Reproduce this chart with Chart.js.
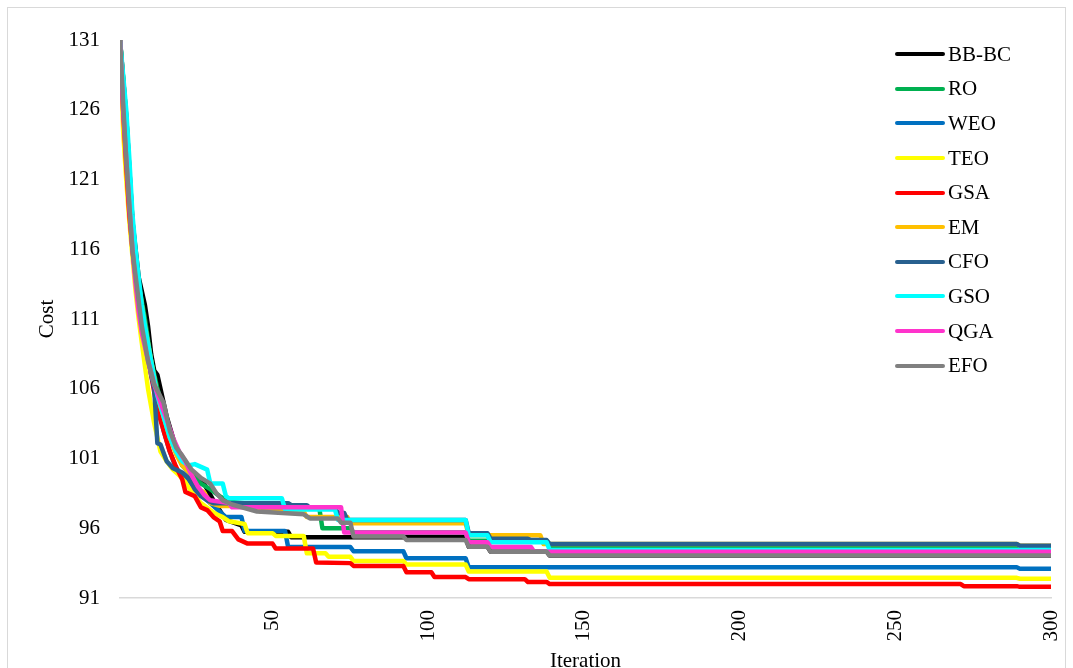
<!DOCTYPE html>
<html>
<head>
<meta charset="utf-8">
<script src="https://cdn.jsdelivr.net/npm/chart.js@4.4.1/dist/chart.umd.min.js"></script>
<style>
  html, body { margin: 0; padding: 0; background: #fff; overflow: hidden; }
  #wrap { position: relative; width: 1073px; height: 668px; overflow: hidden; }
  #frame { position: absolute; left: 7px; top: 7px; width: 1059px; height: 700px; border: 1px solid #d9d9d9; box-sizing: border-box; }
  #chart { position: absolute; left: 0; top: 0; }
  #legend { position: absolute; left: 895px; top: 37px; font-family: 'Liberation Serif', 'Times New Roman', serif; font-size: 21px; color: #000; }
  #legend .item { height: 34.6px; display: flex; align-items: center; }
  #legend .swatch { width: 50px; height: 4px; border-radius: 2px; margin-right: 3px; }
</style>
</head>
<body>
<div id="wrap">
  <div id="frame"></div>
  <canvas id="chart" width="1073" height="700"></canvas>
  <div id="legend"></div>
</div>
<script>
// series names + colours (legend order)
const names = ['BB-BC', 'RO', 'WEO', 'TEO', 'GSA', 'EM', 'CFO', 'GSO', 'QGA', 'EFO'];
const colors = ['#000000', '#00b050', '#0070c0', '#ffff00', '#ff0000', '#ffc000', '#28608f', '#00ffff', '#ff33cc', '#808080'];

const xTicks = [50, 100, 150, 200, 250, 300];
const yTicks = [91, 96, 101, 106, 111, 116, 121, 126, 131];

// [iteration, cost] points (flat parts given by their two ends)
const bbbc = [[1,131],[3,125.5],[5,118],[7,114],[9,112],[10,110.5],[11,108.5],[12,107.3],[13,107],[14,106],[16,104],[18,102.5],[20,101],[22,100.3],[25,99.8],[28,99.2],[31,98],[33,97.3],[35,96.6],[40,96.2],[41,95.75],[55,95.75],[56,95.35],[112,95.35],[113,94.68],[119,94.68],[120,94.32],[138,94.32],[139,94.05],[300,94.05]];
const ro = [[1,131],[3,125],[5,117.5],[7,113.5],[9,111],[11,108],[13,106],[15,104.5],[17,103],[19,101.5],[21,100.5],[24,99.8],[27,99.2],[30,98.8],[33,98.3],[36,97.9],[45,97.7],[46,97.45],[65,97.45],[66,96],[75,96],[76,95.7],[112,95.7],[113,95.1],[138,95.1],[139,94.62],[300,94.62]];
const weo = [[1,131],[3,125],[5,117],[7,113],[9,110.5],[11,107.5],[13,105],[15,103],[17,101.5],[19,100.3],[21,99.8],[24,99.2],[27,98.5],[30,97.8],[33,97.2],[35,96.8],[40,96.8],[41,95.8],[54,95.8],[55,94.65],[75,94.65],[76,94.35],[92,94.35],[93,93.85],[112,93.85],[113,93.2],[289,93.2],[290,93.1],[300,93.1]];
const teo = [[1,131],[2,124.5],[3,121],[4,118],[5,115.5],[6,113],[7,111],[8,109.3],[10,106],[12,103.5],[14,101.5],[16,100.8],[18,100.2],[20,99.8],[22,99.3],[24,98.6],[27,97.8],[30,97.3],[32,97],[34,96.8],[36,96.5],[41,96.3],[42,95.65],[50,95.65],[51,95.45],[60,95.45],[61,94.2],[67,94.2],[68,93.95],[75,93.95],[76,93.65],[92,93.65],[93,93.4],[112,93.4],[113,92.9],[138,92.9],[139,92.45],[289,92.45],[290,92.38],[300,92.38]];
const gsa = [[1,131],[2,126],[3,122],[4,118.5],[5,116],[7,112],[9,109.5],[11,107],[13,104.5],[15,103],[17,101.5],[19,100.4],[21,99.5],[22,98.6],[25,98.3],[27,97.5],[29,97.3],[31,96.8],[33,96.5],[34,95.8],[37,95.8],[39,95.2],[42,94.9],[50,94.9],[51,94.55],[63,94.55],[64,93.55],[75,93.5],[76,93.3],[92,93.3],[93,92.85],[101,92.85],[102,92.5],[112,92.5],[113,92.35],[131,92.35],[132,92.15],[138,92.15],[139,92],[271,92],[272,91.85],[289,91.85],[290,91.8],[300,91.8]];
const em = [[1,131],[3,125.5],[5,117.5],[7,113.5],[9,110.5],[11,108],[13,105.5],[15,104],[17,102.5],[19,101.3],[21,100.5],[24,99.8],[26,98.8],[28,98.6],[30,97.8],[33,97.6],[45,97.6],[46,97.2],[60,97.2],[61,96.8],[74,96.8],[75,96.35],[112,96.35],[113,95.5],[136,95.5],[137,94.87],[289,94.87],[290,94.75],[300,94.75]];
const cfo = [[1,131],[3,125.5],[5,118],[7,113.5],[9,110],[11,107],[12,106],[13,102.1],[14,102],[16,100.8],[18,100.3],[21,100],[23,99.6],[25,98.8],[27,98.3],[29,98],[31,97.8],[55,97.8],[56,97.65],[61,97.65],[62,97.45],[70,97.45],[71,97.1],[73,97.1],[74,96.6],[112,96.6],[113,95.65],[119,95.65],[120,95.25],[132,95.25],[133,95.15],[138,95.15],[139,94.87],[289,94.87],[290,94.75],[300,94.75]];
const gso = [[1,131],[2,128.5],[3,126],[4,122.5],[5,118.5],[6,116],[7,114],[8,112],[9,110.5],[11,108],[13,105.5],[15,104],[17,102.5],[19,101.5],[21,100.8],[23,100.5],[25,100.6],[27,100.4],[29,100.2],[30,99.2],[34,99.2],[35,98.3],[36,98.15],[53,98.15],[54,97.35],[70,97.35],[71,96.6],[112,96.6],[113,95.5],[119,95.5],[120,95],[138,95],[139,94.44],[300,94.44]];
const qga = [[1,131],[2,126],[3,122.5],[4,119],[5,116],[6,113.5],[7,111.5],[8,110],[10,108],[12,106.3],[14,105],[16,103.8],[18,102.5],[20,101.5],[22,100.8],[24,99.8],[26,99],[28,98.4],[30,98],[36,97.8],[37,97.5],[72,97.5],[73,95.7],[112,95.7],[113,95],[119,95],[120,94.65],[133,94.65],[134,94.32],[300,94.32]];
const efo = [[1,131],[2,126.5],[3,122.5],[5,115.9],[8,110.5],[10,108],[12,106.3],[15,105],[17,103],[19,101.8],[21,101.2],[24,100.2],[27,99.6],[30,99.2],[32,98.5],[34,98],[37,97.7],[45,97.2],[60,97],[62,96.7],[71,96.7],[72,96.4],[75,96.4],[76,95.4],[92,95.4],[93,95.15],[112,95.15],[113,94.68],[119,94.68],[120,94.32],[138,94.32],[139,94.05],[300,94.05]];

const series = [bbbc, ro, weo, teo, gsa, em, cfo, gso, qga, efo];

Chart.defaults.font.family = "'Liberation Serif', 'Times New Roman', serif";
Chart.defaults.font.size = 21;
Chart.defaults.color = '#000';

const datasets = series.map((pts, i) => ({
    label: names[i],
    data: pts.map(p => ({ x: p[0], y: p[1] })),
    borderColor: colors[i],
    backgroundColor: colors[i],
    borderWidth: 4.5,
    borderCapStyle: 'round',
    borderJoinStyle: 'round',
    pointRadius: 0,
    tension: 0,
    order: names.length - i   // later series drawn on top, like the original
}));

new Chart(document.getElementById('chart'), {
    type: 'line',
    data: { datasets },
    options: {
        responsive: false,
        animation: false,
        devicePixelRatio: 1,
        layout: { padding: { top: 40, right: 22, bottom: 0, left: 0 } },
        plugins: { legend: { display: false }, tooltip: { enabled: false } },
        scales: {
            x: {
                type: 'linear',
                min: 1,
                max: 300,
                grid: { display: false, drawTicks: false },
                border: { display: true, color: '#d9d9d9', width: 1.5 },
                afterBuildTicks: s => { s.ticks = xTicks.map(v => ({ value: v })); },
                afterFit: s => { s.height = 102; s.paddingLeft = 0; s.paddingRight = 0; },
                ticks: { minRotation: 90, maxRotation: 90, padding: 12, autoSkip: false },
                title: { display: true, text: 'Iteration', padding: { top: 0, bottom: 26 } }
            },
            y: {
                min: 91,
                max: 131,
                grid: { display: false, drawTicks: false },
                border: { display: false },
                afterBuildTicks: s => { s.ticks = yTicks.map(v => ({ value: v })); },
                afterFit: s => { s.width = 120; },
                ticks: { padding: 20 },
                title: { display: true, text: 'Cost', padding: { top: 35, bottom: 0 } }
            }
        }
    }
});

// legend in the top right corner, over the plot
const legend = document.getElementById('legend');
names.forEach((n, i) => {
    legend.innerHTML += `<div class="item"><span class="swatch" style="background:${colors[i]}"></span>${n}</div>`;
});
</script>
</body>
</html>
